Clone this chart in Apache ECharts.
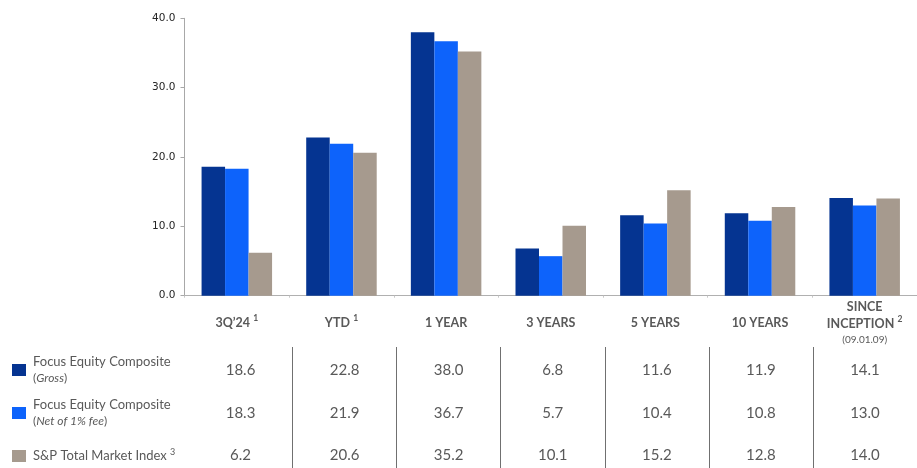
<!DOCTYPE html>
<html>
<head>
<meta charset="utf-8">
<script src="https://cdn.jsdelivr.net/npm/echarts@6/dist/echarts.min.js"></script>
<style>
html,body{margin:0;padding:0;background:#fff;}
#c{width:917px;height:468px;}
</style>
</head>
<body>
<div id="c"></div>
<script>
const categories = ['3Q’24', 'YTD', '1 YEAR', '3 YEARS', '5 YEARS', '10 YEARS', 'SINCE INCEPTION'];
const categoryNotes = ['1', '1', '', '', '', '', '2'];
const seriesNames = ['Focus Equity Composite (Gross)', 'Focus Equity Composite (Net of 1% fee)', 'S&P Total Market Index'];
const grossValues = [18.6, 22.8, 38.0, 6.8, 11.6, 11.9, 14.1];
const netValues = [18.3, 21.9, 36.7, 5.7, 10.4, 10.8, 13.0];
const indexValues = [6.2, 20.6, 35.2, 10.1, 15.2, 12.8, 14.0];
const yTicks = [0, 10, 20, 30, 40];

const colors = ['#053491', '#0D63FB', '#A69A8E'];
const txt = '#595959';
const FONT = 'Lato';

const chart = echarts.init(document.getElementById('c'));

function catLabel(v, idx) {
  const note = categoryNotes[idx] ? ' {sup|' + categoryNotes[idx] + '}' : '';
  if (v.indexOf('SINCE') === 0) {
    return '{b|SINCE}\n{b|INCEPTION}' + note + '\n{s|(09.01.09)}';
  }
  return '{b|' + v + '}' + note;
}

const legendText = {};
legendText[seriesNames[0]] = '{a|Focus Equity Composite}\n{p|(}{i|Gross}{p|)}';
legendText[seriesNames[1]] = '{a|Focus Equity Composite}\n{p|(}{i|Net of 1% fee}{p|)}';
legendText[seriesNames[2]] = '{a|S&P Total Market Index} {sup|3}';
const legendTops = [355, 398, 447.5];

const valueRows = [grossValues, netValues, indexValues];
const rowMargins = [23, 66, 108];

const xAxes = [
  {
    type: 'category', gridIndex: 0, data: categories, boundaryGap: true,
    axisLine: {show: true, lineStyle: {color: '#b0b0b0', width: 1}},
    axisTick: {show: true, length: 2, lineStyle: {color: '#c8c8c8'}},
    axisLabel: {
      interval: 0, margin: 27, verticalAlign: 'middle', formatter: catLabel,
      rich: {
        b: {fontFamily: FONT, fontSize: 12.5, fontWeight: 'bold', color: txt, lineHeight: 17},
        sup: {fontFamily: FONT, fontSize: 8.5, fontWeight: 'bold', color: txt, lineHeight: 10, verticalAlign: 'top'},
        s: {fontFamily: FONT, fontSize: 10, color: txt, lineHeight: 15}
      }
    }
  },
  {
    type: 'category', gridIndex: 1, data: categories, boundaryGap: true, position: 'top',
    axisLine: {show: false}, axisTick: {show: false}, axisLabel: {show: false},
    splitLine: {show: true, interval: function (i) { return i > 0; }, lineStyle: {color: '#707070', width: 1}}
  }
];
valueRows.forEach(function (row, r) {
  xAxes.push({
    type: 'category', gridIndex: 1, position: 'top', boundaryGap: true,
    data: row.map(function (v) { return v.toFixed(1); }),
    axisLine: {show: false}, axisTick: {show: false}, splitLine: {show: false},
    axisLabel: {
      inside: true, interval: 0, margin: rowMargins[r], verticalAlign: 'middle',
      fontFamily: FONT, fontSize: 15, color: txt
    }
  });
});

const legends = seriesNames.map(function (n, k) {
  return {
    orient: 'vertical', left: 12, top: legendTops[k], padding: 0,
    itemWidth: 14, itemHeight: 12, icon: 'rect', selectedMode: false,
    data: [n],
    formatter: function (name) { return legendText[name]; },
    textStyle: {
      padding: [0, 0, 0, 2],
      rich: {
        a: {fontFamily: FONT, fontSize: 13, color: txt, lineHeight: 17},
        p: {fontFamily: FONT, fontSize: 12, color: txt, lineHeight: 17},
        i: {fontFamily: FONT, fontSize: 12, fontStyle: 'italic', color: txt, lineHeight: 17},
        sup: {fontFamily: FONT, fontSize: 9, color: txt, lineHeight: 11, verticalAlign: 'top'}
      }
    }
  };
});

const option = {
  backgroundColor: '#ffffff',
  animation: false,
  color: colors,
  grid: [
    {left: 184.5, right: -15.1, top: 18.3, bottom: 172.3, containLabel: false},
    {left: 188.5, right: -13.5, top: 347, bottom: 0, containLabel: false}
  ],
  legend: legends,
  xAxis: xAxes,
  yAxis: [
    {
      type: 'value', gridIndex: 0, min: yTicks[0], max: yTicks[yTicks.length - 1], interval: 10,
      axisLine: {show: true, lineStyle: {color: '#a8a8a8'}},
      axisTick: {show: true, length: 4, lineStyle: {color: '#a8a8a8'}},
      splitLine: {show: false},
      axisLabel: {
        margin: 9, fontFamily: 'DejaVu Sans', fontSize: 10.5, color: '#262626',
        formatter: function (v) { return v.toFixed(1); }
      }
    },
    {type: 'value', gridIndex: 1, show: false, min: 0, max: 1}
  ],
  series: [
    {name: seriesNames[0], type: 'bar', xAxisIndex: 0, yAxisIndex: 0, data: grossValues, barWidth: 23.5, barGap: '0%', itemStyle: {color: colors[0]}},
    {name: seriesNames[1], type: 'bar', xAxisIndex: 0, yAxisIndex: 0, data: netValues, barWidth: 23.5, barGap: '0%', itemStyle: {color: colors[1]}},
    {name: seriesNames[2], type: 'bar', xAxisIndex: 0, yAxisIndex: 0, data: indexValues, barWidth: 23.5, barGap: '0%', itemStyle: {color: colors[2]}}
  ]
};
chart.setOption(option);
</script>
</body>
</html>
